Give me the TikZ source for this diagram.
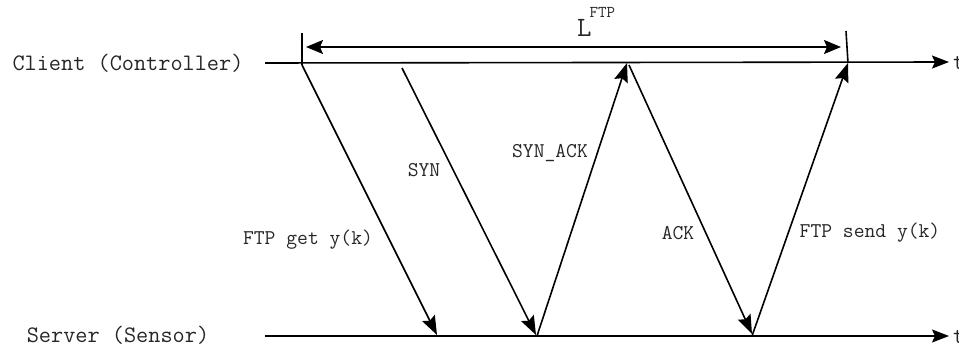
\documentclass[tikz,border=0pt]{standalone}
\usepackage{fontspec}
\usetikzlibrary{arrows.meta}
\tikzset{
  lane/.style={line width=1.6pt, -{Stealth[length=17pt,width=13pt,inset=3pt]}},
  msg/.style={line width=1.6pt, -{Stealth[length=19pt,width=14pt,inset=3pt]}},
  dim/.style={line width=1.6pt, {Stealth[length=17pt,width=14pt,inset=3pt]}-{Stealth[length=17pt,width=14pt,inset=3pt]}},
  tick/.style={line width=1.6pt},
  lanelabel/.style={font=\ttfamily\fontsize{23.6}{25}\selectfont, inner sep=0pt, text=black!85},
  msglabel/.style={font=\ttfamily\fontsize{21}{23}\selectfont, inner sep=0pt, text=black!85},
}
\begin{document}
\begin{tikzpicture}[x=1pt,y=-1pt]
\useasboundingbox (0,0) rectangle (959,350);
% lane endpoints
\coordinate (cs) at (265,63);
\coordinate (ce) at (949,62);
\coordinate (ss) at (265,336);
\coordinate (se) at (949,336);
% message endpoints
\coordinate (a1) at (302,65);  \coordinate (b1) at (437,335);
\coordinate (a2) at (402,68);  \coordinate (b2) at (536,335);
\coordinate (a3) at (537,336); \coordinate (b3) at (627,63);
\coordinate (a4) at (629,65);  \coordinate (b4) at (752,334);
\coordinate (a5) at (752,336); \coordinate (b5) at (848,63);
% ticks and dimension
\coordinate (t1a) at (302,33); \coordinate (t1b) at (302,65);
\coordinate (t2a) at (846,31); \coordinate (t2b) at (848,63);
\coordinate (d1) at (306,47);  \coordinate (d2) at (841,47);

\draw[lane] (cs) -- (ce);
\draw[lane] (ss) -- (se);
\node[lanelabel, anchor=west] (tc) at (953,63) {t};
\node[lanelabel, anchor=west] (ts) at (953,337) {t};

\node[lanelabel] (client) at (128,63) {Client (Controller)};
\node[lanelabel] (server) at (118,335) {Server (Sensor)};

\draw[msg] (a1) -- (b1);
\draw[msg] (a2) -- (b2);
\draw[msg] (a3) -- (b3);
\draw[msg] (a4) -- (b4);
\draw[msg] (a5) -- (b5);

\draw[tick] (t1a) -- (t1b);
\draw[tick] (t2a) -- (t2b);
\draw[dim] (d1) -- (d2);

\node[inner sep=0pt, anchor=base west, text=black!85] (lftp) at (577,37)
  {\ttfamily\fontsize{28}{30}\selectfont L\hspace{-2pt}\raisebox{19pt}{\fontsize{16.5}{17}\selectfont FTP}};

\node[msglabel] (lget) at (308,240) {FTP get y(k)};
\node[msglabel] (lsyn) at (424,170) {SYN};
\node[msglabel] (lsynack) at (550,153) {SYN\_ACK};
\node[msglabel] (lack) at (678,233) {ACK};
\node[msglabel] (lsend) at (870,233) {FTP send y(k)};
\end{tikzpicture}
\end{document}
